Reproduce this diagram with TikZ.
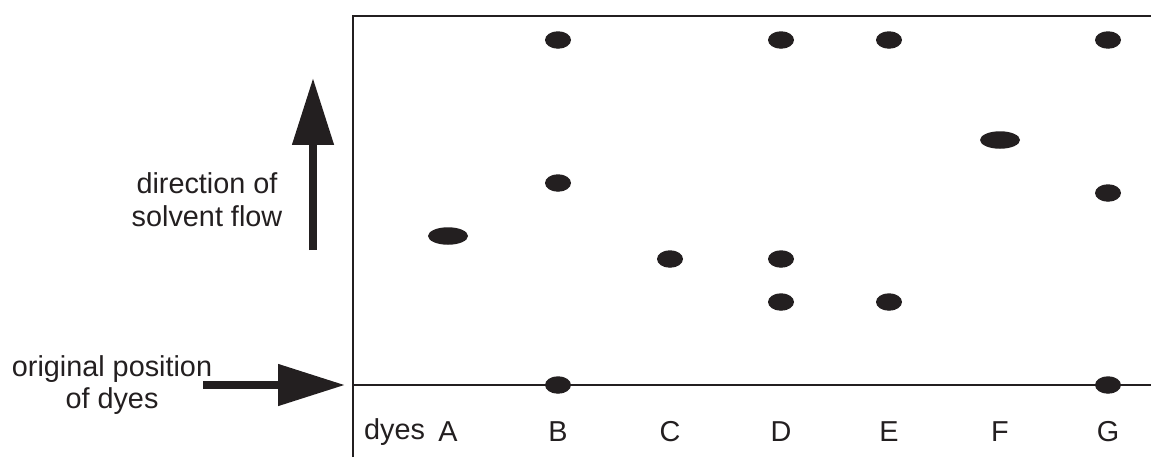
\documentclass[tikz,border=0pt]{standalone}
\usepackage{fontspec}
\setmainfont{Liberation Sans}
\usetikzlibrary{shapes.geometric,arrows.meta}
\definecolor{ink}{RGB}{35,31,32}

\tikzset{
  spot/.style={ellipse, fill=ink, inner sep=0pt, minimum width=0.52cm, minimum height=0.35cm},
  wide spot/.style={spot, minimum width=0.8cm},
  label text/.style={text=ink, font=\fontsize{16.4}{18.7}\selectfont, align=center},
  flow/.style={draw=ink, line width=4.5pt, -{Triangle[length=1.34cm,width=0.8cm]}}
}

\begin{document}
\begin{tikzpicture}[x=0.02cm, y=-0.02cm]
        \useasboundingbox (0,0) rectangle (1151,457);

        % draw the paper
        \draw[ink, line width=1.5pt] (353,457) -- (353,16) -- (1151,16);
        \draw[ink, line width=1.5pt] (353,385) -- (1151,385);

        % the texts
        \node[label text] (flowtext) at (207,200) {direction of\\solvent flow};
        \node[label text] (starttext) at (112,385) {original position\\of dyes};
        \node[label text, anchor=west] (dyes) at (358,432) {dyes};
        \node[label text] (lA) at (448,432) {A};
        \node[label text] (lB) at (558,432) {B};
        \node[label text] (lC) at (670,432) {C};
        \node[label text] (lD) at (781,432) {D};
        \node[label text] (lE) at (889,432) {E};
        \node[label text] (lF) at (1000,432) {F};
        \node[label text] (lG) at (1108,432) {G};

        % the spots of each dye
        \node[wide spot] (A1) at (448,236) {};
        \node[spot] (B1) at (558,40) {};
        \node[spot] (B2) at (558,183) {};
        \node[spot] (B3) at (558,385) {};
        \node[spot] (C1) at (670,259) {};
        \node[spot] (D1) at (781,40) {};
        \node[spot] (D2) at (781,259) {};
        \node[spot] (D3) at (781,302) {};
        \node[spot] (E1) at (889,40) {};
        \node[spot] (E2) at (889,302) {};
        \node[wide spot] (F1) at (1000,140) {};
        \node[spot] (G1) at (1108,40) {};
        \node[spot] (G2) at (1108,193) {};
        \node[spot] (G3) at (1108,385) {};

        % ends of the arrows
        \coordinate (up0) at (313,250);
        \coordinate (up1) at (313,78);
        \coordinate (in0) at (203,385);
        \coordinate (in1) at (345,385);

        % draw the arrows
        \draw[flow] (up0) -- (up1);
        \draw[flow] (in0) -- (in1);

    \end{tikzpicture}
\end{document}
